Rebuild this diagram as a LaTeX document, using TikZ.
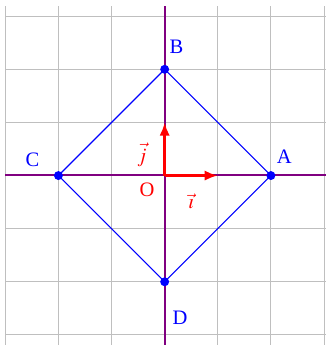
\documentclass[tikz,border=0pt]{standalone}
\usepackage{mathptmx}
\usepackage{fontspec}
\setmainfont{Liberation Serif}
\usetikzlibrary{arrows.meta}

\begin{document}
\begin{tikzpicture}[>=Latex,font=\fontsize{11}{13}\selectfont,
    pt/.style={blue},
    lbl/.style={text=blue,inner sep=1pt},
    axe/.style={violet,line width=1pt},
    vec/.style={-{Latex[length=7pt,width=5.5pt]},red,line width=1.7pt}]
  \useasboundingbox (-3.1,-3.19) rectangle (3.02,3.305);
  \draw[lightgray,line width=0.5pt] (-3,-3.2) grid (3.1,3.2);
  \draw[axe] (0,-3.2)--(0,3.2); \draw[axe] (-3,0.01)--(3.1,0.01);
  \coordinate (O) at (0,0); \coordinate (I) at (1,0); \coordinate (J) at (0,1);
  \coordinate (A) at (2,0); \coordinate (B) at (0,2);
  \coordinate (C) at (-2,0); \coordinate (D) at (0,-2);
  \draw[blue,line width=0.6pt] (A)--(B)--(C)--(D)--cycle;
  \foreach \p in {A,B,C,D} \fill[pt] (\p) circle (2.4pt);
  \node[lbl] (lA) at (2.25,0.35) {A}; \node[lbl] (lB) at (0.22,2.42) {B};
  \node[lbl] (lC) at (-2.49,0.29) {C}; \node[lbl] (lD) at (0.29,-2.68) {D};
  \draw[vec] (O)--(I); \draw[vec] (O)--(J);
  \node[red] (lO) at (-0.33,-0.27) {O};
  \node[red,inner sep=1pt] (li) at (0.5,-0.49) {$\vec{\imath}$};
  \node[red,inner sep=1pt] (lj) at (-0.43,0.39) {$\vec{j}$};
\end{tikzpicture}
\end{document}
